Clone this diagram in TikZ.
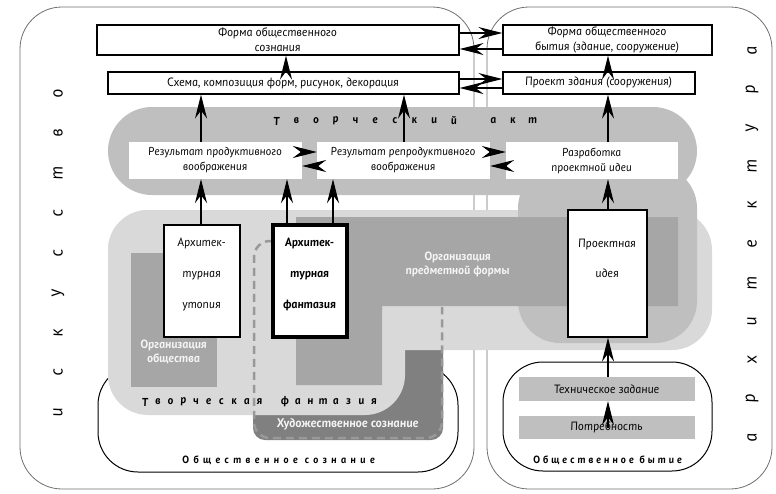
\documentclass[tikz,border=0pt]{standalone}
\usepackage{fontspec}
\setmainfont{PT Sans Italic}[FakeSlant=-0.17, BoldFont={PT Sans Bold Italic}]
\usetikzlibrary{arrows.meta,calc}

\definecolor{gAct}{HTML}{BFBFBF}
\definecolor{gLight}{HTML}{D9D9D9}
\definecolor{gOrg}{HTML}{A6A6A6}
\definecolor{gDark}{HTML}{808080}
\definecolor{gDash}{HTML}{999999}
\definecolor{gFrame}{HTML}{6E6E6E}
\definecolor{gTask}{HTML}{BFBFBF}

\tikzset{
  panel/.style={draw=gFrame, line width=0.8pt, rounded corners=42pt},
  outline/.style={draw=black, line width=1pt, rounded corners=40pt},
  box/.style={draw=black, line width=1.1pt, fill=white, inner sep=0pt, align=center,
              font=\fontsize{12}{15}\selectfont},
  wbox/.style={fill=white, inner sep=0pt, align=center, font=\fontsize{11.5}{15}\selectfont},
  thickbox/.style={draw=black, line width=3.5pt, fill=white, inner sep=0pt},
  taskbox/.style={fill=gTask, inner sep=0pt, font=\fontsize{12}{13}\selectfont},
  tall/.style={align=center, inner sep=0pt, font=\fontsize{12}{31}\selectfont},
  orgtext/.style={align=center, inner sep=0pt, text=white!92!gray,
                  font=\bfseries\fontsize{12}{14}\selectfont},
  spaced/.style={inner sep=0pt, font=\bfseries\fontsize{11.5}{12}\selectfont},
  vert/.style={inner sep=0pt, rotate=90, font=\fontsize{18}{18}\selectfont},
  dashline/.style={draw=gDash, line width=2.5pt, dash pattern=on 8pt off 5pt, rounded corners=16pt},
  arr/.style={-{Stealth[length=24pt,width=12pt,inset=8pt]}, line width=1.2pt},
}

\begin{document}
\begin{tikzpicture}[x=1pt,y=-1pt]
\useasboundingbox (0,0) rectangle (776,493);

% the two large frames: art and architecture
\draw[panel] (20,7) rectangle (474,489);
\draw[panel] (487,7) rectangle (772,489);

\foreach \c [count=\k from 0] in {и,с,к,у,с,с,т,в,о}
  \node[vert] (art\k) at (58,412-39.9*\k) {\c};
\foreach \c [count=\k from 0] in {а,р,х,и,т,е,к,т,у,р,а}
  \node[vert] (arch\k) at (752,437-38.7*\k) {\c};

% social consciousness / social being outlines
\draw[outline] (98,365) rectangle (458,472);
\draw[outline] (503,362) rectangle (712,471);

% artistic consciousness
\fill[gDark, rounded corners=12pt] (253,340) rectangle (443,440);

% creative fantasy
\fill[gLight, rounded corners=40pt] (108,210) rectangle (712,350);
\fill[gLight, rounded corners=40pt] (108,210) rectangle (405,415);

% creative act
\fill[gAct, rounded corners=44pt] (108,107) rectangle (697,195);
\fill[gAct, rounded corners=42pt] (518,166) rectangle (697,343);

% organisation areas
\fill[gOrg] (131,253) rectangle (217,387);
\fill[gOrg] (296,217) -- (678,217) -- (678,306) -- (382,306) -- (382,385) -- (296,385) -- cycle;

% boundary of artistic consciousness
\draw[dashline] (273,241) -- (254,241) -- (254,438) -- (442,438) -- (442,307);

% labels of the areas
\node[orgtext] (oobsh) at (174,352) {Организация\\общества};
\node[orgtext] (opf) at (458,264) {Организация\\предметной формы};
\node[orgtext, font=\bfseries\fontsize{12.5}{14}\selectfont] (hud) at (348,424) {Художественное сознание};

\foreach \c [count=\k from 0] in {Т,в,о,р,ч,е,с,к,и,й,{},а,к,т}
  \node[spaced] (act\k) at (277+19.7*\k,121) {\c};
\foreach \c [count=\k from 0] in {Т,в,о,р,ч,е,с,к,а,я,{},ф,а,н,т,а,з,и,я}
  \node[spaced] (fan\k) at (145.5+12.72*\k,402) {\c};

\node[inner sep=0pt, font=\bfseries\fontsize{10.5}{12}\selectfont\addfontfeatures{LetterSpace=41}]
  (osozn) at (279,460) {Общественное сознание};
\node[inner sep=0pt, font=\bfseries\fontsize{10.5}{12}\selectfont\addfontfeatures{LetterSpace=28}]
  (obyt) at (608,460) {Общественное бытие};

% top row
\node[box, minimum width=362pt, minimum height=30pt] (fos) at (278,40) {Форма общественного\\сознания};
\node[box, minimum width=351pt, minimum height=22pt] (sch) at (283.5,83) {Схема, композиция форм, рисунок, декорация};
\node[box, minimum width=209pt, minimum height=30pt] (fob) at (607.5,40) {Форма общественного\\бытия (здание, сооружение)};
\node[box, minimum width=192pt, minimum height=22pt] (prz) at (599,83) {Проект здания (сооружения)};

% results of imagination
\node[wbox, minimum width=173pt, minimum height=37pt] (rpv) at (215.5,160.5) {Результат продуктивного\\воображения};
\node[wbox, minimum width=173pt, minimum height=37pt] (rrv) at (403.5,160.5) {Результат репродуктивного\\воображения};
\node[wbox, minimum width=172pt, minimum height=37pt] (raz) at (592,160.5) {Разработка\\проектной идеи};

% utopia, fantasy, design idea
\node[box, minimum width=76pt, minimum height=112pt] (aut) at (202,281) {};
\node[tall] (autt) at (202,274.5) {Архитек-\\турная\\утопия};
\node[thickbox, minimum width=74pt, minimum height=112pt] (afa) at (310,281) {};
\node[tall, font=\bfseries\fontsize{12}{31}\selectfont] (afat) at (310,274.5) {Архитек-\\турная\\фантазия};
\node[box, minimum width=79pt, minimum height=127pt] (pid) at (607.5,273.5) {};
\node[tall, font=\fontsize{12}{30}\selectfont] (pidt) at (607.5,258) {Проектная\\идея};

% task and need
\node[taskbox, minimum width=176pt, minimum height=24pt] (tz) at (607,389) {Техническое задание};
\node[taskbox, minimum width=176pt, minimum height=23pt] (potr) at (607,427.5) {Потребность};

% arrow columns and rows
\coordinate (cA) at (201,0);
\coordinate (cB) at (287,0);
\coordinate (cC) at (333,0);
\coordinate (cD) at (286,0);
\coordinate (cE) at (404,0);
\coordinate (cF) at (608,0);
\coordinate (r1) at (0,33);
\coordinate (r2) at (0,49);
\coordinate (r3) at (0,79);
\coordinate (r4) at (0,88);
\coordinate (r5) at (0,152);
\coordinate (r6) at (0,166);

% vertical arrows
\draw[arr] (sch.north -| cD) -- (fos.south -| cD);
\draw[arr] (rpv.north -| cA) -- (sch.south -| cA);
\draw[arr] (rrv.north -| cE) -- (sch.south -| cE);
\draw[arr] (aut.north -| cA) -- (rpv.south -| cA);
\draw[arr] (afa.north -| cB) -- (rpv.south -| cB);
\draw[arr] (afa.north -| cC) -- (rrv.south -| cC);
\draw[arr] (prz.north -| cF) -- (fob.south -| cF);
\draw[arr] (raz.north -| cF) -- (prz.south -| cF);
\draw[arr] (pid.north -| cF) -- (raz.south -| cF);
\draw[arr] (tz.north -| cF) -- (pid.south -| cF);
\draw[arr] (potr.center -| cF) -- (tz.south -| cF);

% horizontal arrows
\draw[arr] (fos.east |- r1) -- (fob.west |- r1);
\draw[arr] (fob.west |- r2) -- (fos.east |- r2);
\draw[arr] (sch.east |- r3) -- (prz.west |- r3);
\draw[arr] (prz.west |- r4) -- (sch.east |- r4);
\draw[arr] (rpv.east |- r5) -- (rrv.west |- r5);
\draw[arr] (rrv.west |- r6) -- (rpv.east |- r6);
\draw[arr] (rrv.east |- r5) -- (raz.west |- r5);
\draw[arr] (raz.west |- r6) -- (rrv.east |- r6);
\end{tikzpicture}
\end{document}
